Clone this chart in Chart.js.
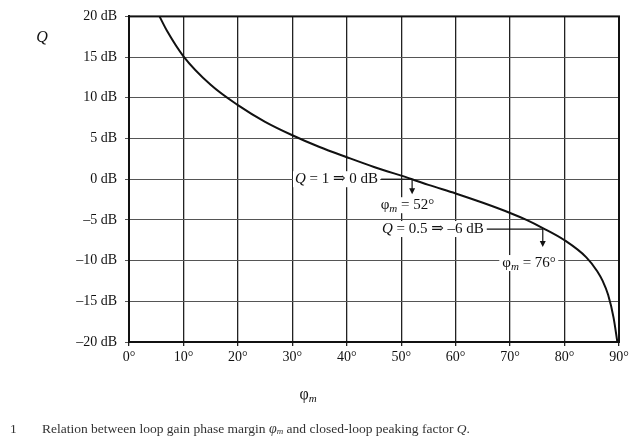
<!DOCTYPE html>
<html>
<head>
<meta charset="utf-8">
<script src="https://cdn.jsdelivr.net/npm/chart.js@4.4.1/dist/chart.umd.min.js"></script>
<style>
  html, body { margin: 0; padding: 0; background: #fff; }
  #wrap { width: 641px; height: 448px; position: relative; }
</style>
</head>
<body>
<div id="wrap"><canvas id="chart" width="641" height="448"></canvas></div>
<script>
// phase margin (deg) vs peaking factor Q (dB)
var phase = [5.6, 7, 10, 15, 20, 25, 30, 35, 40, 45, 52, 55, 60, 65, 70, 73, 76, 80, 84, 86, 87, 88, 89, 89.7];
var qdB   = [20, 18.2, 15.1, 11.6, 9.1, 7.05, 5.4, 3.95, 2.7, 1.5, 0, -0.7, -1.75, -2.9, -4.15, -5.0, -6.0, -7.5, -9.6, -11.3, -12.5, -14.2, -17.0, -20.0];

var xTicks = [0, 10, 20, 30, 40, 50, 60, 70, 80, 90];
var yTicks = [-20, -15, -10, -5, 0, 5, 10, 15, 20];

// marked points: Q = 1 -> 0 dB at 52 deg, Q = 0.5 -> -6 dB at 76 deg
var markQ = ["1", "0.5"];
var markDb = [0, -6];
var markPhase = [52, 76];

var SERIF = "'Liberation Serif', 'DejaVu Serif', serif";

var points = phase.map(function(p, i) { return {x: p, y: qdB[i]}; });

function fmtDb(v) { return (v < 0 ? "\u2013" + (-v) : v) + " dB"; }

// draw "φm" with subscript, returns width
function drawPhi(ctx, x, y, size, align) {
    ctx.font = size + "px " + SERIF;
    var w1 = ctx.measureText("\u03c6").width;
    ctx.font = "italic " + Math.round(size * 0.7) + "px " + SERIF;
    var w2 = ctx.measureText("m").width;
    var start = align === "center" ? x - (w1 + w2) / 2 : x;
    ctx.textAlign = "left";
    ctx.font = size + "px " + SERIF;
    ctx.fillText("\u03c6", start, y);
    ctx.font = "italic " + Math.round(size * 0.7) + "px " + SERIF;
    ctx.fillText("m", start + w1, y + size * 0.25);
    return w1 + w2;
}

function arrowDown(ctx, x, y1, y2) {
    ctx.beginPath();
    ctx.moveTo(x, y1);
    ctx.lineTo(x, y2 - 5);
    ctx.stroke();
    ctx.beginPath();
    ctx.moveTo(x - 3, y2 - 6);
    ctx.lineTo(x + 3, y2 - 6);
    ctx.lineTo(x, y2);
    ctx.closePath();
    ctx.fill();
}

var decorPlugin = {
    id: "decor",
    afterDraw: function(chart) {
        var ctx = chart.ctx;
        var a = chart.chartArea;
        var xs = chart.scales.x, ys = chart.scales.y;
        ctx.save();

        // frame
        ctx.strokeStyle = "#111";
        ctx.lineWidth = 2;
        ctx.strokeRect(a.left, a.top, a.right - a.left, a.bottom - a.top);

        ctx.fillStyle = "#111";
        ctx.strokeStyle = "#111";
        ctx.textBaseline = "middle";

        // axis titles
        ctx.font = "italic 16px " + SERIF;
        ctx.textAlign = "center";
        ctx.fillText("Q", 42, 38);
        drawPhi(ctx, 308, 395, 16, "center");

        // annotations
        var size = 15;
        for (var i = 0; i < markQ.length; i++) {
            var px = xs.getPixelForValue(markPhase[i]);
            var py = ys.getPixelForValue(markDb[i]);
            var rest = " = " + markQ[i] + " \u21d2 " + fmtDb(markDb[i]);
            ctx.font = "italic " + size + "px " + SERIF;
            var wq = ctx.measureText("Q").width;
            ctx.font = size + "px " + SERIF;
            var wr = ctx.measureText(rest).width;
            var gap = i === 0 ? 34 : 59;
            var ty = i === 0 ? py : py + 1;
            var right = px - gap;
            var left = right - wq - wr;
            ctx.fillStyle = "#fff";
            ctx.fillRect(left - 2, ty - 8, wq + wr + 4, 16);
            ctx.fillStyle = "#111";
            ctx.textAlign = "left";
            ctx.font = "italic " + size + "px " + SERIF;
            ctx.fillText("Q", left, ty);
            ctx.font = size + "px " + SERIF;
            ctx.fillText(rest, left + wq, ty);

            ctx.lineWidth = 1.2;
            ctx.beginPath();
            ctx.moveTo(right + 3, ty);
            ctx.lineTo(px, ty);
            ctx.stroke();
            arrowDown(ctx, px, ty, ty + (i === 0 ? 15 : 18));

            // φm = xx° label
            var ly = i === 0 ? ty + 26 : ty + 34;
            var lx = i === 0 ? px - 5 : px - 14;
            ctx.font = size + "px " + SERIF;
            var wt = ctx.measureText(" = " + markPhase[i] + "\u00b0").width + 16;
            ctx.fillStyle = "#fff";
            ctx.fillRect(lx - wt / 2 - 3, ly - 8, wt + 6, 16);
            ctx.fillStyle = "#111";
            var wp = drawPhi(ctx, lx - wt / 2, ly, size, "left");
            ctx.font = size + "px " + SERIF;
            ctx.textAlign = "left";
            ctx.fillText(" = " + markPhase[i] + "\u00b0", lx - wt / 2 + wp, ly);
        }

        // caption
        ctx.fillStyle = "#333";
        ctx.font = "13.5px " + SERIF;
        ctx.textAlign = "left";
        ctx.fillText("1", 10, 429);
        var cx = 42;
        var parts = ["Relation between loop gain phase margin ", null, " and closed-loop peaking factor ", "Q", "."];
        for (var k = 0; k < parts.length; k++) {
            if (parts[k] === null) {
                ctx.font = "italic 14px " + SERIF;
                ctx.fillText("\u03c6", cx, 429);
                cx += ctx.measureText("\u03c6").width;
                ctx.font = "italic 9px " + SERIF;
                ctx.fillText("m", cx, 432);
                cx += ctx.measureText("m").width;
                continue;
            }
            ctx.font = (parts[k] === "Q" ? "italic " : "") + "13.5px " + SERIF;
            ctx.fillText(parts[k], cx, 429);
            cx += ctx.measureText(parts[k]).width;
        }
        ctx.restore();
    }
};

new Chart(document.getElementById("chart"), {
    type: "line",
    data: {
        datasets: [{
            data: points,
            borderColor: "#111",
            borderWidth: 2,
            pointRadius: 0,
            fill: false,
            cubicInterpolationMode: "monotone"
        }]
    },
    options: {
        responsive: false,
        animation: false,
        layout: { padding: { left: 0, top: 16, right: 22, bottom: 0 } },
        plugins: { legend: { display: false }, tooltip: { enabled: false } },
        scales: {
            x: {
                type: "linear",
                min: 0,
                max: 90,
                afterBuildTicks: function(s) { s.ticks = xTicks.map(function(v) { return {value: v}; }); },
                afterFit: function(s) { s.height = 106; },
                border: { color: "#111", width: 2 },
                grid: { color: "#222", lineWidth: 1.3, tickLength: 4 },
                ticks: {
                    color: "#111",
                    padding: 3,
                    maxRotation: 0,
                    font: { family: SERIF, size: 14 },
                    callback: function(v) { return v + "\u00b0"; }
                }
            },
            y: {
                type: "linear",
                min: -20,
                max: 20,
                afterBuildTicks: function(s) { s.ticks = yTicks.map(function(v) { return {value: v}; }); },
                afterFit: function(s) { s.width = 129; },
                border: { color: "#111", width: 2 },
                grid: { color: "#555", lineWidth: 1, tickLength: 4 },
                ticks: {
                    color: "#111",
                    padding: 8,
                    font: { family: SERIF, size: 14 },
                    callback: function(v) { return fmtDb(v); }
                }
            }
        }
    },
    plugins: [decorPlugin]
});
</script>
</body>
</html>
